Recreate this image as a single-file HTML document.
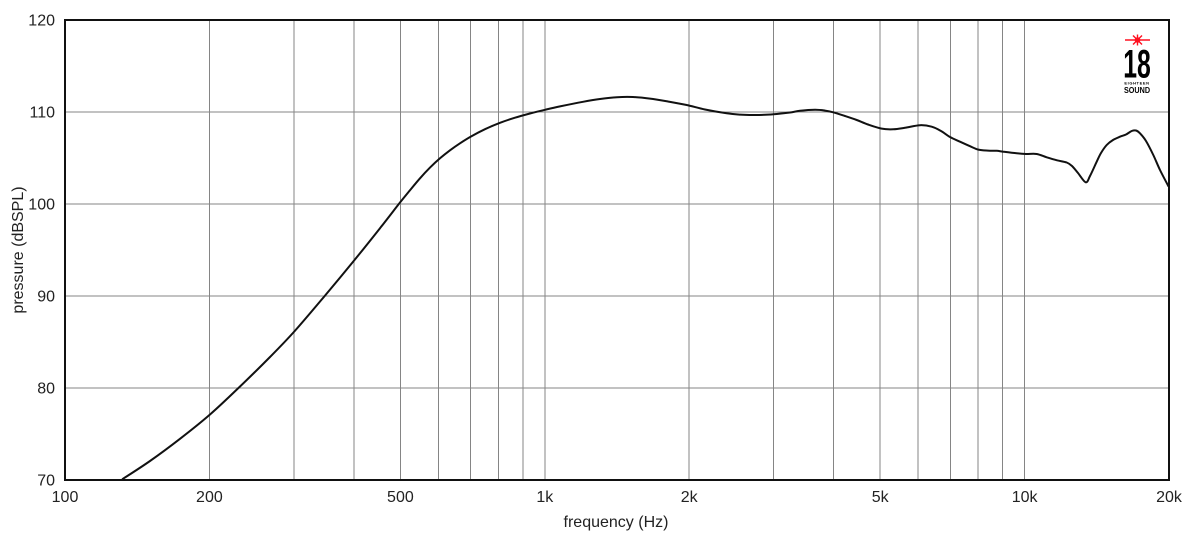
<!DOCTYPE html>
<html>
<head>
<meta charset="utf-8">
<style>
html,body{margin:0;padding:0;background:#fff;}
svg{display:block;}
text{font-family:"Liberation Sans",Arial,sans-serif;fill:#222;}
</style>
</head>
<body>
<svg width="1200" height="533" viewBox="0 0 1200 533" xmlns="http://www.w3.org/2000/svg">
<rect width="1200" height="533" fill="#fff"/>
<!-- grid -->
<g stroke="#858585" stroke-width="1" shape-rendering="crispEdges">
<line x1="209.4" y1="20" x2="209.4" y2="480"/>
<line x1="293.9" y1="20" x2="293.9" y2="480"/>
<line x1="353.9" y1="20" x2="353.9" y2="480"/>
<line x1="400.4" y1="20" x2="400.4" y2="480"/>
<line x1="438.4" y1="20" x2="438.4" y2="480"/>
<line x1="470.5" y1="20" x2="470.5" y2="480"/>
<line x1="498.3" y1="20" x2="498.3" y2="480"/>
<line x1="522.8" y1="20" x2="522.8" y2="480"/>
<line x1="544.8" y1="20" x2="544.8" y2="480"/>
<line x1="689.2" y1="20" x2="689.2" y2="480"/>
<line x1="773.7" y1="20" x2="773.7" y2="480"/>
<line x1="833.7" y1="20" x2="833.7" y2="480"/>
<line x1="880.2" y1="20" x2="880.2" y2="480"/>
<line x1="918.2" y1="20" x2="918.2" y2="480"/>
<line x1="950.3" y1="20" x2="950.3" y2="480"/>
<line x1="978.1" y1="20" x2="978.1" y2="480"/>
<line x1="1002.6" y1="20" x2="1002.6" y2="480"/>
<line x1="1024.6" y1="20" x2="1024.6" y2="480"/>
<line x1="65" y1="112" x2="1169" y2="112"/>
<line x1="65" y1="204" x2="1169" y2="204"/>
<line x1="65" y1="296" x2="1169" y2="296"/>
<line x1="65" y1="388" x2="1169" y2="388"/>
</g>
<!-- frame -->
<rect x="65" y="20" width="1104" height="460" fill="none" stroke="#111" stroke-width="2"/>
<!-- curve -->
<polyline id="crv" fill="none" stroke="#111" stroke-width="2" stroke-linejoin="round" stroke-linecap="round" points="
122.7,479 150,461 180,438.8 210,414.5 240,386.5 270,357 294.3,331.5 325,295.6 353.7,261 380,228.2 400,202.5 410,190.2 420,178.3 430,167.6 440,158.3 450,150.3 460,143.3 471,136.5 485,129.2 500,122.8 515,117.7 530,113.5 545,109.8 560,106.4 583,101.8 600,99 617,97.2 633,97 650,98.6 668,101.5 686.7,105 705,109.5 726.7,113.3 740,114.6 753.3,115 765,114.8 776.7,114 790,112.5 800,110.8 815,109.8 825,110.6 833.3,112.3 845,116 856.7,120 868,124.5 881.7,128.6 893.3,129.3 905,127.8 920,125.2 931.7,126.7 941,131 950,137 960,141.7 970,146.2 978.3,149.6 988,150.6 996.7,150.8 1003.3,151.7 1016.7,153.3 1026,154 1036.7,154 1046.7,157.3 1057,160.3 1066.7,162.5 1072,166 1078,173 1085.7,182.3 1090,176 1096.7,161.7 1101,153 1106.7,145 1113,140 1120,136.7 1126,134.5 1131.7,131 1136,130.5 1140,133.3 1146,141 1153.3,155 1160,170 1168.3,186"/>
<!-- y tick labels -->
<g font-size="16" text-anchor="end">
<text x="55" y="25.5">120</text>
<text x="55" y="117.5">110</text>
<text x="55" y="209.5">100</text>
<text x="55" y="301.5">90</text>
<text x="55" y="393.5">80</text>
<text x="55" y="485.5">70</text>
</g>
<!-- x tick labels -->
<g font-size="16" text-anchor="middle">
<text x="65" y="502">100</text>
<text x="209.4" y="502">200</text>
<text x="400.4" y="502">500</text>
<text x="544.8" y="502">1k</text>
<text x="689.2" y="502">2k</text>
<text x="880.2" y="502">5k</text>
<text x="1024.6" y="502">10k</text>
<text x="1169" y="502">20k</text>
</g>
<text x="616" y="527" font-size="16" text-anchor="middle">frequency (Hz)</text>
<text transform="translate(23,250) rotate(-90)" font-size="16" text-anchor="middle">pressure (dBSPL)</text>
<!-- logo -->
<g>
<g stroke="#ff1020" stroke-width="1.4">
<line x1="1125" y1="40" x2="1150" y2="40"/>
<line x1="1137.5" y1="34.5" x2="1137.5" y2="45.5"/>
<line x1="1133" y1="35.5" x2="1142" y2="44.5"/>
<line x1="1133" y1="44.5" x2="1142" y2="35.5"/>
</g>
<circle cx="1137.5" cy="40" r="2.8" fill="#ff1020"/>
<text x="0" y="0" font-size="40" font-weight="bold" text-anchor="middle" transform="translate(1137,77.5) scale(0.62,1)" style="fill:#000">18</text>
<text x="1137" y="84.5" font-size="4" font-weight="bold" text-anchor="middle" letter-spacing="0.6" style="fill:#000">EIGHTEEN</text>
<text x="0" y="0" font-size="8.5" font-weight="bold" text-anchor="middle" transform="translate(1137,93) scale(0.85,1)" style="fill:#000">SOUND</text>
</g>
</svg>
<script>
(function(){
  var pl=document.getElementById('crv');
  var raw=pl.getAttribute('points').trim().split(/\s+/).map(function(s){var a=s.split(',');return [parseFloat(a[0]),parseFloat(a[1])];});
  var d='M'+raw[0][0]+','+raw[0][1];
  for(var i=0;i<raw.length-1;i++){
    var p0=raw[i-1]||raw[i],p1=raw[i],p2=raw[i+1],p3=raw[i+2]||raw[i+1];
    var c1x=p1[0]+(p2[0]-p0[0])/6,c1y=p1[1]+(p2[1]-p0[1])/6;
    var c2x=p2[0]-(p3[0]-p1[0])/6,c2y=p2[1]-(p3[1]-p1[1])/6;
    d+=' C'+c1x.toFixed(2)+','+c1y.toFixed(2)+' '+c2x.toFixed(2)+','+c2y.toFixed(2)+' '+p2[0]+','+p2[1];
  }
  var ns='http://www.w3.org/2000/svg';
  var p=document.createElementNS(ns,'path');
  p.setAttribute('d',d);
  p.setAttribute('fill','none');
  p.setAttribute('stroke','#111');
  p.setAttribute('stroke-width','2');
  p.setAttribute('stroke-linejoin','round');
  p.setAttribute('stroke-linecap','round');
  pl.parentNode.replaceChild(p,pl);
})();
</script>
</body>
</html>
